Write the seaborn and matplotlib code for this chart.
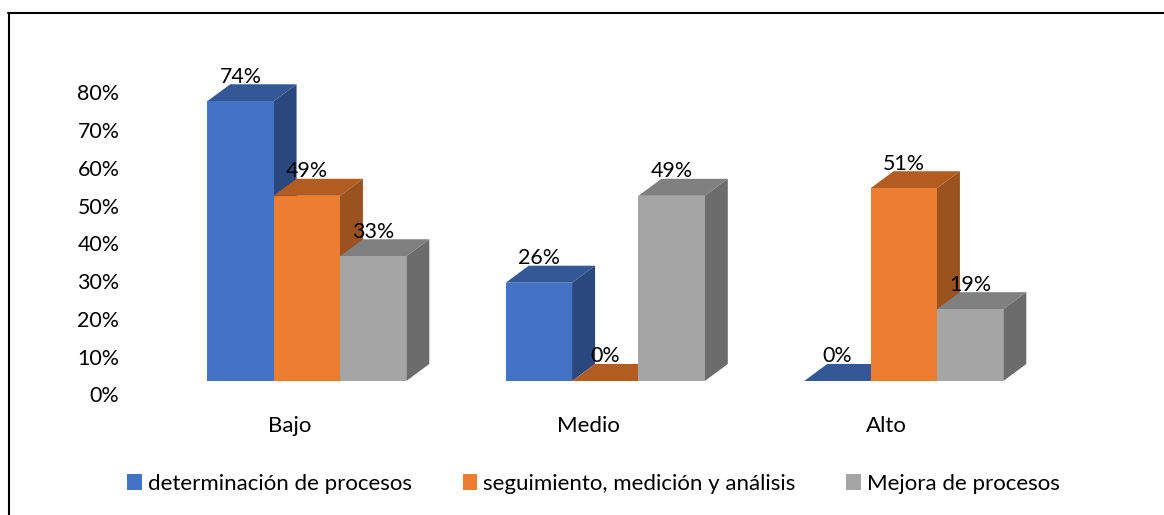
import matplotlib
matplotlib.use("Agg")
import matplotlib.pyplot as plt
import pandas as pd
import seaborn as sns
from matplotlib.lines import Line2D
from matplotlib.patches import Patch, Polygon
from matplotlib.transforms import ScaledTranslation

# Chart data, in percent
niveles = ["Bajo", "Medio", "Alto"]
determinacion = [74, 26, 0]
seguimiento = [49, 0, 51]
mejora = [33, 49, 19]
series = ["determinación de procesos", "seguimiento, medición y análisis", "Mejora de procesos"]
y_ticks = [0, 10, 20, 30, 40, 50, 60, 70, 80]

# Colours for the front, top and side faces of each box
front_colors = ["#4472C4", "#ED7D31", "#A5A5A5"]
top_colors = ["#345896", "#B25C22", "#808080"]
side_colors = ["#2A487D", "#9A521E", "#6C6C6C"]

W, H = 1164, 515
DPI = 100
sns.set_style("white")
plt.rcParams["font.family"] = ["Lato", "DejaVu Sans"]
FONT = 15.4
FONT_WIDE = 16.0

df = pd.DataFrame({
    "nivel": niveles * 3,
    "serie": [s for s in series for _ in niveles],
    "valor": determinacion + seguimiento + mejora,
})

fig = plt.figure(figsize=(W / DPI, H / DPI), dpi=DPI)

# Axes placed in pixels: baseline at y=381, 3.78 px per percentage point
PX_PER_PCT = 3.78
PX_PER_CAT = 298.5
left, right = 157.5, 157.5 + 3 * PX_PER_CAT
base, top = 381, 20
ax = fig.add_axes([left / W, 1 - base / H, (right - left) / W, (base - top) / H])

sns.barplot(
    data=df, x="nivel", y="valor", hue="serie", hue_order=series,
    palette=front_colors, saturation=1, width=0.667, gap=0,
    linewidth=0, legend=False, ax=ax,
)
ax.set_xlim(-0.5, 2.5)
ax.set_ylim(0, (base - top) / PX_PER_PCT)

# Oblique depth of the boxes
depth_x = 23 / PX_PER_CAT
depth_y = 17 / PX_PER_PCT

for i, container in enumerate(ax.containers):
    for bar in container:
        x0, w, h = bar.get_x(), bar.get_width(), bar.get_height()
        x1 = x0 + w
        bar.set_zorder(3 + i + 0.5)
        bar.set_clip_on(False)
        top_face = [(x0, h), (x1, h), (x1 + depth_x, h + depth_y), (x0 + depth_x, h + depth_y)]
        ax.add_patch(Polygon(top_face, closed=True, fc=top_colors[i], ec="none",
                             zorder=3 + i, clip_on=False))
        if h > 0 or i == 2:
            side_face = [(x1, 0), (x1 + depth_x, depth_y), (x1 + depth_x, h + depth_y), (x1, h)]
            ax.add_patch(Polygon(side_face, closed=True, fc=side_colors[i], ec="none",
                                 zorder=3 + i, clip_on=False))
        ax.annotate(f"{h:.0f}%", xy=(x0 + w / 2, h), xytext=(0, 24.5 * 72 / DPI),
                    textcoords="offset points", ha="center", va="center",
                    fontsize=FONT, color="black", zorder=10, annotation_clip=False)

ax.set_xlabel("")
ax.set_ylabel("")
ax.set_yticks(y_ticks)
ax.set_yticklabels([f"{v}%" for v in y_ticks])
ax.tick_params(axis="y", length=0, pad=38 * 72 / DPI, labelsize=FONT, labelcolor="black")
ax.tick_params(axis="x", length=0, pad=34.5 * 72 / DPI, labelsize=FONT_WIDE, labelcolor="black")
sns.despine(ax=ax, left=True, bottom=True)
ax.grid(False)

# Tick labels sit lower and to the left of the front plane
for lab in ax.get_yticklabels():
    lab.set_transform(lab.get_transform() + ScaledTranslation(0, -13.5 / DPI, fig.dpi_scale_trans))
for lab in ax.get_xticklabels():
    lab.set_transform(lab.get_transform() + ScaledTranslation(-17 / DPI, 0, fig.dpi_scale_trans))

handles = [Patch(fc=c, ec="none", label=s) for c, s in zip(front_colors, series)]
fig.legend(
    handles=handles, ncol=3, loc="center", bbox_to_anchor=(593.5 / W, 1 - 484 / H),
    frameon=False, fontsize=FONT_WIDE, handlelength=0.64, handleheight=0.7,
    handletextpad=0.27, columnspacing=2.3, borderpad=0, labelcolor="black",
)

# Outer frame: left and top rules only
fig.add_artist(Line2D([8.5 / W, 8.5 / W], [0, 1 - 13 / H], color="black", lw=1.5))
fig.add_artist(Line2D([8 / W, 1], [1 - 13 / H, 1 - 13 / H], color="black", lw=1.5))

fig.savefig("out.png", dpi=DPI, facecolor="white")
